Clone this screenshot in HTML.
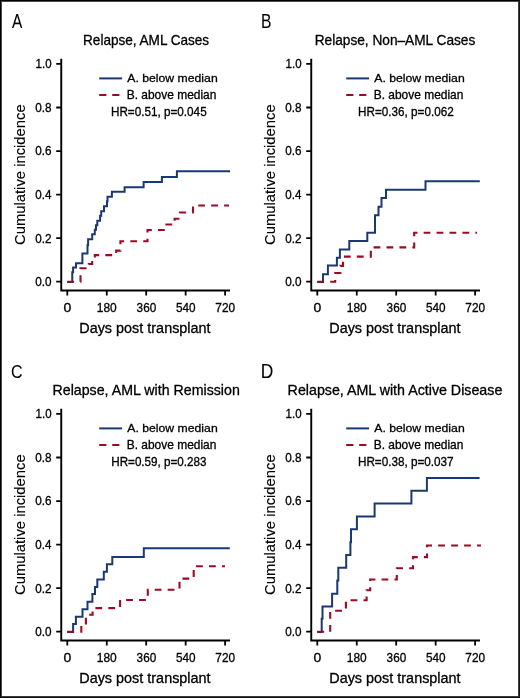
<!DOCTYPE html>
<html><head><meta charset="utf-8"><style>
html,body{margin:0;padding:0;background:#fff;}
svg{display:block;will-change:transform;}
text{font-family:"Liberation Sans", sans-serif;fill:#000;stroke:#000;stroke-width:0.3;}
</style></head><body>
<svg width="520" height="698" viewBox="0 0 520 698">
<rect x="0" y="0" width="520" height="698" fill="#fff"/>
<g transform="translate(0 0)"><path d="M 61.25 58.8 V 290.5 H 230" fill="none" stroke="#000" stroke-width="1.9" stroke-linejoin="miter" stroke-linecap="butt"/><path d="M 56.2 63.95 H 61.25 M 56.2 107.50 H 61.25 M 56.2 151.05 H 61.25 M 56.2 194.60 H 61.25 M 56.2 238.15 H 61.25 M 56.2 281.70 H 61.25 M 67.30 290.5 V 295.4 M 106.75 290.5 V 295.4 M 146.20 290.5 V 295.4 M 185.65 290.5 V 295.4 M 225.10 290.5 V 295.4 " fill="none" stroke="#000" stroke-width="1.8"/><path d="M 99.2 78.4 H 122.1" stroke="#1a3872" stroke-width="2.0"/><path d="M 99.2 95 H 120" stroke="#9c0a24" stroke-width="2.1" stroke-dasharray="7.2 5.8"/></g><path d="M 67.3 281.8 H 72.25 V 272 H 73.1 V 267.3 H 76 V 263 H 82.4 V 253.2 H 87.5 V 245 H 88.1 V 238.9 H 92.2 V 234.1 H 94.8 V 229.6 H 96 V 224.9 H 97.3 V 220.4 H 100.1 V 215.4 H 101.2 V 210.9 H 104 V 206 H 107 V 201 H 107.5 V 196.4 H 111.9 V 191.5 H 124.6 V 187.1 H 143.6 V 181.8 H 161.9 V 176.7 H 176.9 V 171.1 H 230.1" transform="translate(0 0.25)" fill="none" stroke="#1a3872" stroke-width="2.0" stroke-linejoin="miter"/><path d="M 67.3 281.8 H 80.5 V 268.3 H 88.8 V 264 H 92.2 V 259.5 H 94.8 V 255.1 H 116.2 V 250.6 H 120.4 V 241.2 H 147.5 V 230 H 165 V 224.5 H 174.6 V 218.8 H 180 V 212.5 H 193 V 205.5 H 229" fill="none" stroke="#9c0a24" stroke-width="2.1" stroke-dasharray="6.8 6.15"/><g transform="translate(250 0)"><path d="M 61.25 58.8 V 290.5 H 230" fill="none" stroke="#000" stroke-width="1.9" stroke-linejoin="miter" stroke-linecap="butt"/><path d="M 56.2 63.95 H 61.25 M 56.2 107.50 H 61.25 M 56.2 151.05 H 61.25 M 56.2 194.60 H 61.25 M 56.2 238.15 H 61.25 M 56.2 281.70 H 61.25 M 67.30 290.5 V 295.4 M 106.75 290.5 V 295.4 M 146.20 290.5 V 295.4 M 185.65 290.5 V 295.4 M 225.10 290.5 V 295.4 " fill="none" stroke="#000" stroke-width="1.8"/><path d="M 96.2 78.4 H 119.1" stroke="#1a3872" stroke-width="2.0"/><path d="M 96.2 95 H 117" stroke="#9c0a24" stroke-width="2.1" stroke-dasharray="7.2 5.8"/></g><path d="M 317.3 281.8 H 323 V 273.9 H 327.9 V 265.3 H 336.9 V 257.5 H 339.9 V 249.3 H 349.3 V 240.8 H 367.3 V 232.4 H 375 V 215 H 378.5 V 206.5 H 381.5 V 197.8 H 386 V 189.4 H 425.5 V 181 H 479.8" transform="translate(0 0.25)" fill="none" stroke="#1a3872" stroke-width="2.0" stroke-linejoin="miter"/><path d="M 317.3 281.8 H 335.2 V 273 H 340.5 V 265.9 H 343 V 256.6 H 370.8 V 247.4 H 414.2 V 232.7 H 477" fill="none" stroke="#9c0a24" stroke-width="2.1" stroke-dasharray="6.8 6.15"/><g transform="translate(0 350)"><path d="M 61.25 58.8 V 290.5 H 230" fill="none" stroke="#000" stroke-width="1.9" stroke-linejoin="miter" stroke-linecap="butt"/><path d="M 56.2 63.95 H 61.25 M 56.2 107.50 H 61.25 M 56.2 151.05 H 61.25 M 56.2 194.60 H 61.25 M 56.2 238.15 H 61.25 M 56.2 281.70 H 61.25 M 67.30 290.5 V 295.4 M 106.75 290.5 V 295.4 M 146.20 290.5 V 295.4 M 185.65 290.5 V 295.4 M 225.10 290.5 V 295.4 " fill="none" stroke="#000" stroke-width="1.8"/><path d="M 99.2 78.4 H 122.1" stroke="#1a3872" stroke-width="2.0"/><path d="M 99.2 95 H 120" stroke="#9c0a24" stroke-width="2.1" stroke-dasharray="7.2 5.8"/></g><path d="M 67.3 631.8 H 73.1 V 623.8 H 75.9 V 616.5 H 82.5 V 609.1 H 87.5 V 601.5 H 92.4 V 593.8 H 95 V 586.8 H 97.3 V 579.2 H 103.8 V 571.5 H 106.9 V 564.1 H 112.3 V 556.8 H 143.8 V 547.9 H 229.8" transform="translate(0 0.25)" fill="none" stroke="#1a3872" stroke-width="2.0" stroke-linejoin="miter"/><path d="M 67.3 631.8 H 81.3 V 625 H 85.9 V 614.8 H 92.6 V 608.1 H 120.1 V 600 H 147.8 V 589.7 H 179.5 V 578.6 H 193.7 V 566.3 H 225" fill="none" stroke="#9c0a24" stroke-width="2.1" stroke-dasharray="6.8 6.15"/><g transform="translate(250 350)"><path d="M 61.25 58.8 V 290.5 H 230" fill="none" stroke="#000" stroke-width="1.9" stroke-linejoin="miter" stroke-linecap="butt"/><path d="M 56.2 63.95 H 61.25 M 56.2 107.50 H 61.25 M 56.2 151.05 H 61.25 M 56.2 194.60 H 61.25 M 56.2 238.15 H 61.25 M 56.2 281.70 H 61.25 M 67.30 290.5 V 295.4 M 106.75 290.5 V 295.4 M 146.20 290.5 V 295.4 M 185.65 290.5 V 295.4 M 225.10 290.5 V 295.4 " fill="none" stroke="#000" stroke-width="1.8"/><path d="M 96.2 78.4 H 119.1" stroke="#1a3872" stroke-width="2.0"/><path d="M 96.2 95 H 117" stroke="#9c0a24" stroke-width="2.1" stroke-dasharray="7.2 5.8"/></g><path d="M 317.3 631.8 H 321.7 V 618.5 H 322.5 V 606.2 H 332.1 V 593.5 H 337.3 V 580.2 H 338.3 V 567.6 H 346.2 V 554.7 H 350.4 V 542 H 351 V 529.1 H 356.9 V 516.3 H 374.6 V 503.2 H 411.4 V 490.6 H 426.9 V 477.8 H 479.6" transform="translate(0 0.25)" fill="none" stroke="#1a3872" stroke-width="2.0" stroke-linejoin="miter"/><path d="M 317.3 631.8 H 330.2 V 610.8 H 345.9 V 600.3 H 366.6 V 590.2 H 370.2 V 579.5 H 396.8 V 568.3 H 413 V 557.1 H 427 V 545.5 H 481" fill="none" stroke="#9c0a24" stroke-width="2.1" stroke-dasharray="6.8 6.15"/>
<g>
<text transform="matrix(0.8132 0.0000 0.0000 1.0231 12.00 27.70)" font-size="19" style="stroke-width:0.05">A</text>
<text transform="matrix(0.9696 0.0000 0.0000 0.9931 83.07 45.00)" font-size="14">Relapse, AML Cases</text>
<text transform="matrix(1.0193 0.0000 0.0000 0.9840 127.30 81.70)" font-size="12">A. below median</text>
<text transform="matrix(0.9974 0.0000 0.0000 1.0320 126.70 98.60)" font-size="12">B. above median</text>
<text transform="matrix(0.9776 0.0000 0.0000 1.0680 110.92 115.80)" font-size="12">HR=0.51, p=0.045</text>
<text transform="matrix(0.9587 0.0000 0.0000 1.0560 35.60 68.35)" font-size="12">1.0</text>
<text transform="matrix(0.9766 0.0000 0.0000 1.0353 35.31 111.90)" font-size="12">0.8</text>
<text transform="matrix(0.9766 0.0000 0.0000 1.0353 35.31 155.45)" font-size="12">0.6</text>
<text transform="matrix(0.9663 0.0000 0.0000 1.0353 35.32 199.00)" font-size="12">0.4</text>
<text transform="matrix(0.9766 0.0000 0.0000 1.0353 35.31 242.55)" font-size="12">0.2</text>
<text transform="matrix(0.9766 0.0000 0.0000 1.0353 35.31 286.10)" font-size="12">0.0</text>
<text transform="matrix(1.1647 0.0000 0.0000 1.0353 63.62 311.50)" font-size="12">0</text>
<text transform="matrix(0.9964 0.0000 0.0000 1.0560 96.82 311.50)" font-size="12">180</text>
<text transform="matrix(0.9789 0.0000 0.0000 1.0353 136.61 311.50)" font-size="12">360</text>
<text transform="matrix(0.9789 0.0000 0.0000 1.0560 176.06 311.50)" font-size="12">540</text>
<text transform="matrix(0.9876 0.0000 0.0000 1.0560 215.34 311.50)" font-size="12">720</text>
<text transform="matrix(0.9947 0.0000 0.0000 0.9900 79.24 332.60)" font-size="14.5">Days post transplant</text>
<text transform="matrix(0.0000 -0.9875 0.9469 0.0000 24.70 245.02)" font-size="15" style="stroke-width:0.15">Cumulative incidence</text>
<text transform="matrix(0.8262 0.0000 0.0000 1.0231 260.96 27.70)" font-size="19" style="stroke-width:0.05">B</text>
<text transform="matrix(0.9777 0.0000 0.0000 0.9931 314.66 45.00)" font-size="14">Relapse, Non–AML Cases</text>
<text transform="matrix(1.0193 0.0000 0.0000 0.9840 374.30 81.70)" font-size="12">A. below median</text>
<text transform="matrix(0.9974 0.0000 0.0000 1.0320 373.70 98.60)" font-size="12">B. above median</text>
<text transform="matrix(0.9751 0.0000 0.0000 1.0680 358.12 115.80)" font-size="12">HR=0.36, p=0.062</text>
<text transform="matrix(0.9587 0.0000 0.0000 1.0560 285.60 68.35)" font-size="12">1.0</text>
<text transform="matrix(0.9766 0.0000 0.0000 1.0353 285.31 111.90)" font-size="12">0.8</text>
<text transform="matrix(0.9766 0.0000 0.0000 1.0353 285.31 155.45)" font-size="12">0.6</text>
<text transform="matrix(0.9663 0.0000 0.0000 1.0353 285.32 199.00)" font-size="12">0.4</text>
<text transform="matrix(0.9766 0.0000 0.0000 1.0353 285.31 242.55)" font-size="12">0.2</text>
<text transform="matrix(0.9766 0.0000 0.0000 1.0353 285.31 286.10)" font-size="12">0.0</text>
<text transform="matrix(1.1647 0.0000 0.0000 1.0353 313.62 311.50)" font-size="12">0</text>
<text transform="matrix(0.9964 0.0000 0.0000 1.0560 346.82 311.50)" font-size="12">180</text>
<text transform="matrix(0.9789 0.0000 0.0000 1.0353 386.61 311.50)" font-size="12">360</text>
<text transform="matrix(0.9789 0.0000 0.0000 1.0560 426.06 311.50)" font-size="12">540</text>
<text transform="matrix(0.9876 0.0000 0.0000 1.0560 465.34 311.50)" font-size="12">720</text>
<text transform="matrix(0.9947 0.0000 0.0000 0.9900 329.24 332.60)" font-size="14.5">Days post transplant</text>
<text transform="matrix(0.0000 -0.9875 0.9469 0.0000 274.70 245.02)" font-size="15" style="stroke-width:0.15">Cumulative incidence</text>
<text transform="matrix(0.8417 0.0000 0.0000 1.0101 10.96 377.70)" font-size="19" style="stroke-width:0.05">C</text>
<text transform="matrix(1.0150 0.0000 0.0000 0.9931 52.52 395.00)" font-size="14">Relapse, AML with Remission</text>
<text transform="matrix(1.0193 0.0000 0.0000 0.9840 127.30 431.70)" font-size="12">A. below median</text>
<text transform="matrix(0.9974 0.0000 0.0000 1.0320 126.70 448.60)" font-size="12">B. above median</text>
<text transform="matrix(0.9720 0.0000 0.0000 1.0680 111.23 465.80)" font-size="12">HR=0.59, p=0.283</text>
<text transform="matrix(0.9587 0.0000 0.0000 1.0560 35.60 418.35)" font-size="12">1.0</text>
<text transform="matrix(0.9766 0.0000 0.0000 1.0353 35.31 461.90)" font-size="12">0.8</text>
<text transform="matrix(0.9766 0.0000 0.0000 1.0353 35.31 505.45)" font-size="12">0.6</text>
<text transform="matrix(0.9663 0.0000 0.0000 1.0353 35.32 549.00)" font-size="12">0.4</text>
<text transform="matrix(0.9766 0.0000 0.0000 1.0353 35.31 592.55)" font-size="12">0.2</text>
<text transform="matrix(0.9766 0.0000 0.0000 1.0353 35.31 636.10)" font-size="12">0.0</text>
<text transform="matrix(1.1647 0.0000 0.0000 1.0353 63.62 661.50)" font-size="12">0</text>
<text transform="matrix(0.9964 0.0000 0.0000 1.0560 96.82 661.50)" font-size="12">180</text>
<text transform="matrix(0.9789 0.0000 0.0000 1.0353 136.61 661.50)" font-size="12">360</text>
<text transform="matrix(0.9789 0.0000 0.0000 1.0560 176.06 661.50)" font-size="12">540</text>
<text transform="matrix(0.9876 0.0000 0.0000 1.0560 215.34 661.50)" font-size="12">720</text>
<text transform="matrix(0.9947 0.0000 0.0000 0.9900 79.24 682.60)" font-size="14.5">Days post transplant</text>
<text transform="matrix(0.0000 -0.9875 0.9469 0.0000 24.70 595.02)" font-size="15" style="stroke-width:0.15">Cumulative incidence</text>
<text transform="matrix(0.9176 0.0000 0.0000 1.0231 260.82 377.70)" font-size="19" style="stroke-width:0.05">D</text>
<text transform="matrix(1.0180 0.0000 0.0000 0.9931 287.61 395.00)" font-size="14">Relapse, AML with Active Disease</text>
<text transform="matrix(1.0193 0.0000 0.0000 0.9840 374.30 431.70)" font-size="12">A. below median</text>
<text transform="matrix(0.9974 0.0000 0.0000 1.0320 373.70 448.60)" font-size="12">B. above median</text>
<text transform="matrix(0.9772 0.0000 0.0000 1.0680 357.92 465.80)" font-size="12">HR=0.38, p=0.037</text>
<text transform="matrix(0.9587 0.0000 0.0000 1.0560 285.60 418.35)" font-size="12">1.0</text>
<text transform="matrix(0.9766 0.0000 0.0000 1.0353 285.31 461.90)" font-size="12">0.8</text>
<text transform="matrix(0.9766 0.0000 0.0000 1.0353 285.31 505.45)" font-size="12">0.6</text>
<text transform="matrix(0.9663 0.0000 0.0000 1.0353 285.32 549.00)" font-size="12">0.4</text>
<text transform="matrix(0.9766 0.0000 0.0000 1.0353 285.31 592.55)" font-size="12">0.2</text>
<text transform="matrix(0.9766 0.0000 0.0000 1.0353 285.31 636.10)" font-size="12">0.0</text>
<text transform="matrix(1.1647 0.0000 0.0000 1.0353 313.62 661.50)" font-size="12">0</text>
<text transform="matrix(0.9964 0.0000 0.0000 1.0560 346.82 661.50)" font-size="12">180</text>
<text transform="matrix(0.9789 0.0000 0.0000 1.0353 386.61 661.50)" font-size="12">360</text>
<text transform="matrix(0.9789 0.0000 0.0000 1.0560 426.06 661.50)" font-size="12">540</text>
<text transform="matrix(0.9876 0.0000 0.0000 1.0560 465.34 661.50)" font-size="12">720</text>
<text transform="matrix(0.9947 0.0000 0.0000 0.9900 329.24 682.60)" font-size="14.5">Days post transplant</text>
<text transform="matrix(0.0000 -0.9875 0.9469 0.0000 274.70 595.02)" font-size="15" style="stroke-width:0.15">Cumulative incidence</text>
</g>
<g shape-rendering="crispEdges"><rect x="0" y="0" width="520" height="1" fill="#000"/><rect x="0" y="1" width="520" height="1" fill="#4a4a4a"/><rect x="0" y="0" width="1" height="698" fill="#000"/><rect x="1" y="1" width="1" height="696" fill="#4a4a4a"/><rect x="0" y="697" width="520" height="1" fill="#0a0a0a"/><rect x="1" y="696" width="518" height="1" fill="#3c3c3c"/><rect x="519" y="0" width="1" height="698" fill="#161616"/><rect x="518" y="1" width="1" height="696" fill="#3c3c3c"/></g>
</svg>
</body></html>
